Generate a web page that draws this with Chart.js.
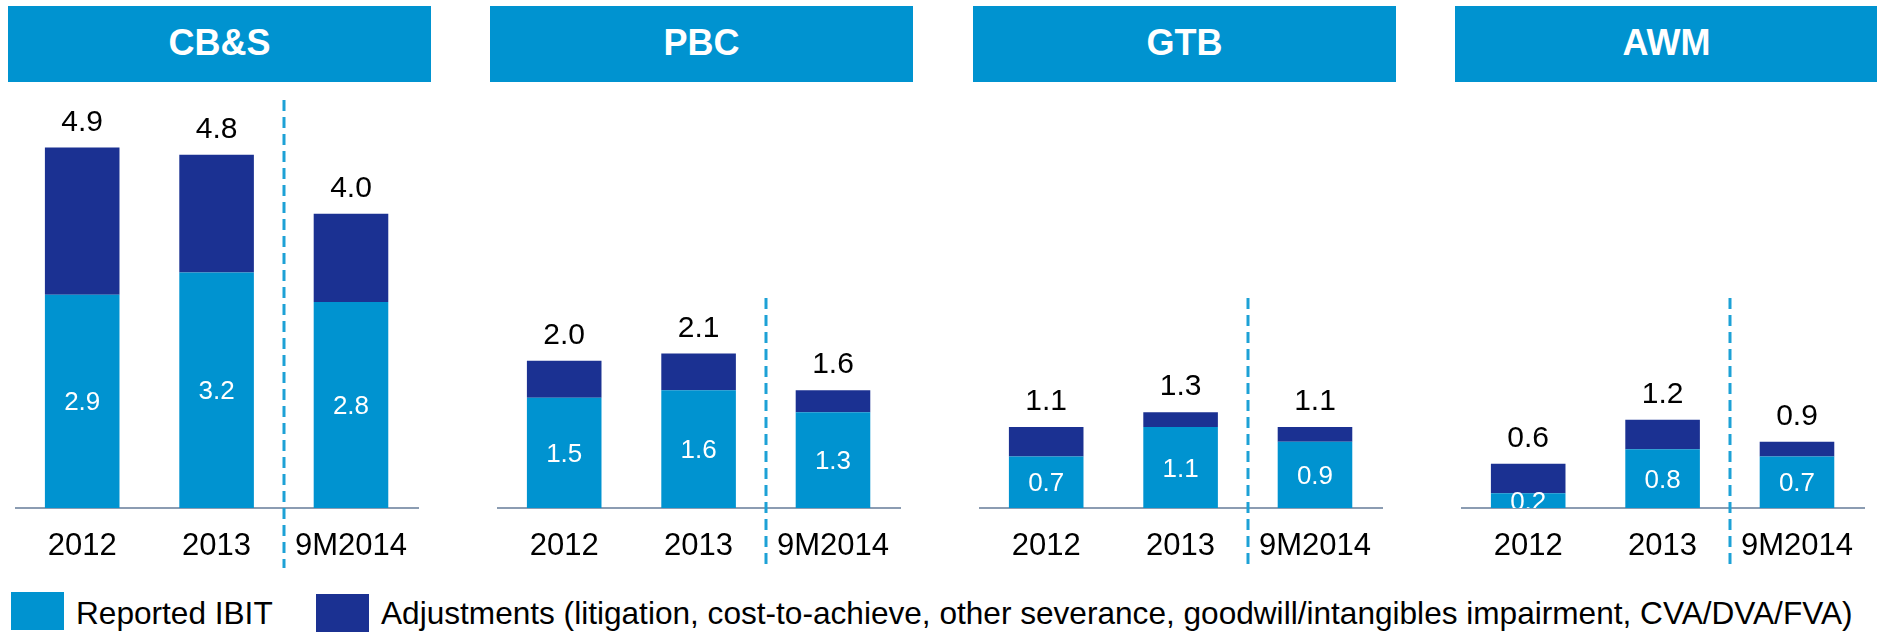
<!DOCTYPE html>
<html>
<head>
<meta charset="utf-8">
<script src="https://cdn.jsdelivr.net/npm/chart.js@4.4.1/dist/chart.umd.min.js"></script>
<style>
  html, body { margin:0; padding:0; background:#fff; }
  body { width:1877px; height:635px; position:relative; overflow:hidden; font-family:"Liberation Sans", Arial, sans-serif; }
  .head { position:absolute; top:6px; height:76px; width:423px; background:#0093D0; color:#fff;
          font-weight:bold; font-size:36px; line-height:36px; display:flex; align-items:center;
          justify-content:center; padding-bottom:3px; box-sizing:border-box; }
  .panel { position:absolute; top:96px; width:412px; height:477px; }
  .key { position:absolute; width:53px; height:38px; }
  .keytxt { position:absolute; top:597px; font-size:31.6px; line-height:32px; color:#000; white-space:nowrap; }
</style>
</head>
<body>
<div id="root"></div>
<div class="key" style="left:11px;top:592px;background:#0093D0"></div>
<div class="keytxt" style="left:76px">Reported IBIT</div>
<div class="key" style="left:316px;top:594px;background:#1B3192"></div>
<div class="keytxt" style="left:381px">Adjustments (litigation, cost-to-achieve, other severance, goodwill/intangibles impairment, CVA/DVA/FVA)</div>

<script>
// --- data (EUR bn) ---
const categories  = ["2012", "2013", "9M2014"];
const segments    = ["CB&S", "PBC", "GTB", "AWM"];
const reported    = [[2.9, 3.2, 2.8], [1.5, 1.6, 1.3], [0.7, 1.1, 0.9], [0.2, 0.8, 0.7]];
const adjustments = [[2.0, 1.6, 1.2], [0.5, 0.5, 0.3], [0.4, 0.2, 0.2], [0.4, 0.4, 0.2]];

// --- layout / style ---
const headLeft  = [8, 490, 973, 1455];
const panelLeft = [15, 497, 979, 1461];
const dividerTop = [100, 298, 298, 298];   // page y where the dashed divider starts
const LIGHT = "#0093D0", DARK = "#1B3192";

Chart.defaults.font.family = '"Liberation Sans", Arial, sans-serif';

const barLabels = {
    id: "barLabels",
    afterDatasetsDraw(chart, args, opts) {
        const { ctx, chartArea, scales: { x, y } } = chart;
        const rep = chart.data.datasets[0].data;
        const adj = chart.data.datasets[1].data;
        ctx.save();

        // dashed divider between full years and 9M
        const dx = Math.round((x.getPixelForValue(1) + x.getPixelForValue(2)) / 2);
        ctx.strokeStyle = "#1DA1D6"; ctx.lineWidth = 3; ctx.setLineDash([11, 6]);
        ctx.beginPath();
        ctx.moveTo(dx, opts.dividerTop - 96);
        ctx.lineTo(dx, chartArea.bottom + 60);
        ctx.stroke();
        ctx.setLineDash([]);

        // totals above the stacks
        ctx.fillStyle = "#000"; ctx.font = '30px "Liberation Sans", Arial';
        ctx.textAlign = "center"; ctx.textBaseline = "alphabetic";
        rep.forEach((v, i) => {
            const tot = v + adj[i];
            ctx.fillText(tot.toFixed(1), x.getPixelForValue(i), y.getPixelForValue(tot) - 17);
        });

        // reported values inside the light segment (clipped to plot area)
        ctx.beginPath();
        ctx.rect(chartArea.left, chartArea.top, chartArea.width, chartArea.height);
        ctx.clip();
        ctx.fillStyle = "#fff"; ctx.font = '26px "Liberation Sans", Arial';
        ctx.textBaseline = "middle";
        rep.forEach((v, i) => {
            const cy = (y.getPixelForValue(0) + y.getPixelForValue(v)) / 2 + 2;
            ctx.fillText(v.toFixed(1), x.getPixelForValue(i), cy);
        });
        ctx.restore();
    }
};

const root = document.getElementById("root");
segments.forEach((name, s) => {
    const head = document.createElement("div");
    head.className = "head";
    head.style.left = headLeft[s] + "px";
    head.textContent = name;
    root.appendChild(head);

    const box = document.createElement("div");
    box.className = "panel";
    box.style.left = panelLeft[s] + "px";
    const cv = document.createElement("canvas");
    box.appendChild(cv);
    root.appendChild(box);

    new Chart(cv, {
        type: "bar",
        data: {
            labels: categories,
            datasets: [
                { label: "Reported IBIT", data: reported[s], backgroundColor: LIGHT },
                { label: "Adjustments", data: adjustments[s], backgroundColor: DARK },
            ],
        },
        options: {
            responsive: true, maintainAspectRatio: false, animation: false,
            layout: { padding: 0 },
            datasets: { bar: { barPercentage: 0.555, categoryPercentage: 1 } },
            scales: {
                x: {
                    stacked: true,
                    grid: { display: false, drawTicks: false },
                    border: { display: true, color: "#8B9CB2", width: 2 },
                    ticks: { color: "#000", font: { size: 31 }, padding: 20, maxRotation: 0 },
                    afterFit(sc) { sc.height = 65; },
                },
                y: { stacked: true, display: false, min: 0, max: 5.6 },
            },
            plugins: {
                legend: { display: false },
                tooltip: { enabled: false },
                barLabels: { dividerTop: dividerTop[s] },
            },
        },
        plugins: [barLabels],
    });
});
</script>
</body>
</html>
